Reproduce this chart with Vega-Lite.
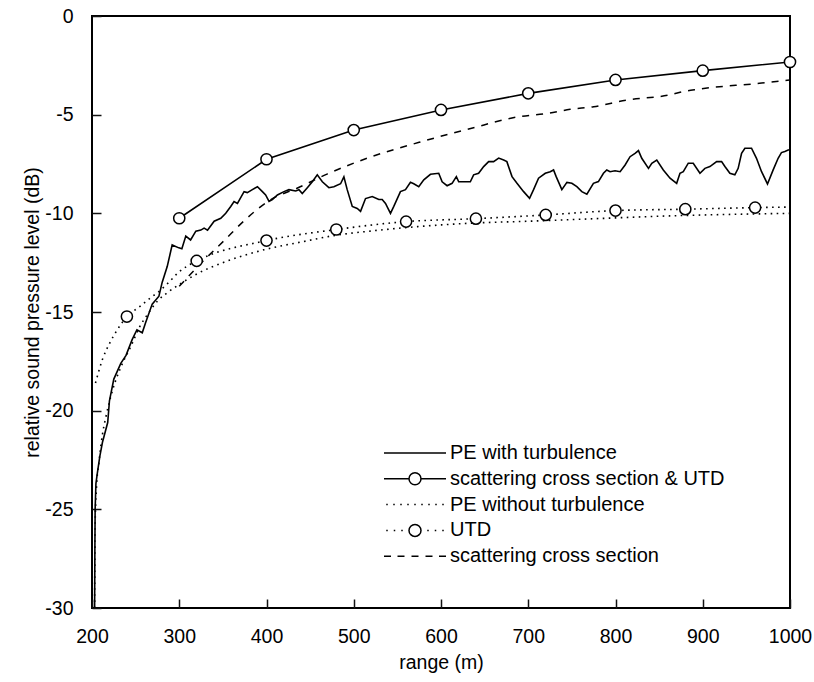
{
  "$schema": "https://vega.github.io/schema/vega-lite/v6.json",
  "width": 698,
  "height": 592,
  "autosize": {"type": "none"},
  "padding": {"left": 92, "top": 16, "right": 24, "bottom": 74},
  "background": "white",
  "config": {
    "locale": {"number": {"decimal": ".", "thousands": "", "grouping": [3], "currency": ["$", ""], "minus": "-"}},
    "view": {"stroke": "black", "strokeWidth": 2},
    "axis": {"domain": false, "grid": false, "labelFlush": false, "tickColor": "#111111", "tickWidth": 1.5, "labelFontSize": 19.5, "labelFont": "Liberation Sans", "labelColor": "black", "titleFont": "Liberation Sans", "titleFontSize": 19.5, "titleFontWeight": "normal", "titleColor": "black"},
    "legend": {
      "orient": "none", "legendX": 313, "legendY": 427,
      "title": null,
      "symbolSize": 100, "symbolStrokeWidth": 1.5, "symbolStrokeColor": "black", "symbolFillColor": "white", "symbolOpacity": 1,
      "labelFont": "Liberation Sans", "labelFontSize": 20, "labelColor": "black", "labelOffset": 25, "labelLimit": 500, "rowPadding": 5.8
    }
  },
  "data": {"values": [
    {"s":"PE with turbulence","x":203,"y":-30},{"s":"PE with turbulence","x":203.3,"y":-27},{"s":"PE with turbulence","x":203.6,"y":-25},{"s":"PE with turbulence","x":204.5,"y":-23.7},{"s":"PE with turbulence","x":206,"y":-23.2},{"s":"PE with turbulence","x":209,"y":-22.3},{"s":"PE with turbulence","x":212,"y":-21.6},{"s":"PE with turbulence","x":218,"y":-20.6},{"s":"PE with turbulence","x":220,"y":-19.5},{"s":"PE with turbulence","x":225,"y":-18.4},{"s":"PE with turbulence","x":233,"y":-17.6},{"s":"PE with turbulence","x":239,"y":-17.2},{"s":"PE with turbulence","x":246,"y":-16.4},{"s":"PE with turbulence","x":251.5,"y":-15.9},{"s":"PE with turbulence","x":257.6,"y":-16.05},{"s":"PE with turbulence","x":261.4,"y":-15.55},{"s":"PE with turbulence","x":269,"y":-14.6},{"s":"PE with turbulence","x":276.7,"y":-14.2},{"s":"PE with turbulence","x":280.4,"y":-13.5},{"s":"PE with turbulence","x":286.2,"y":-12.7},{"s":"PE with turbulence","x":291.9,"y":-11.6},{"s":"PE with turbulence","x":299.5,"y":-11.75},{"s":"PE with turbulence","x":303,"y":-11.8},{"s":"PE with turbulence","x":307.5,"y":-11.15},{"s":"PE with turbulence","x":313,"y":-11.35},{"s":"PE with turbulence","x":319,"y":-10.9},{"s":"PE with turbulence","x":324.7,"y":-10.85},{"s":"PE with turbulence","x":328.5,"y":-10.75},{"s":"PE with turbulence","x":332.4,"y":-10.85},{"s":"PE with turbulence","x":340,"y":-10.4},{"s":"PE with turbulence","x":347.6,"y":-10.25},{"s":"PE with turbulence","x":353.3,"y":-10.0},{"s":"PE with turbulence","x":359,"y":-9.65},{"s":"PE with turbulence","x":362.8,"y":-9.4},{"s":"PE with turbulence","x":366.7,"y":-9.5},{"s":"PE with turbulence","x":374.3,"y":-8.9},{"s":"PE with turbulence","x":378,"y":-8.95},{"s":"PE with turbulence","x":383.8,"y":-8.8},{"s":"PE with turbulence","x":389.6,"y":-8.65},{"s":"PE with turbulence","x":395.3,"y":-8.9},{"s":"PE with turbulence","x":399,"y":-9.07},{"s":"PE with turbulence","x":402.9,"y":-9.4},{"s":"PE with turbulence","x":406.7,"y":-9.3},{"s":"PE with turbulence","x":412.5,"y":-9.07},{"s":"PE with turbulence","x":420,"y":-8.9},{"s":"PE with turbulence","x":425.7,"y":-8.8},{"s":"PE with turbulence","x":433.4,"y":-8.87},{"s":"PE with turbulence","x":437.2,"y":-8.8},{"s":"PE with turbulence","x":441,"y":-9.0},{"s":"PE with turbulence","x":446.8,"y":-8.7},{"s":"PE with turbulence","x":452.5,"y":-8.4},{"s":"PE with turbulence","x":458.2,"y":-8.05},{"s":"PE with turbulence","x":464,"y":-8.4},{"s":"PE with turbulence","x":471.5,"y":-8.7},{"s":"PE with turbulence","x":477.2,"y":-8.65},{"s":"PE with turbulence","x":484.9,"y":-8.5},{"s":"PE with turbulence","x":488.7,"y":-8.15},{"s":"PE with turbulence","x":492.5,"y":-8.8},{"s":"PE with turbulence","x":498.3,"y":-9.65},{"s":"PE with turbulence","x":504,"y":-9.75},{"s":"PE with turbulence","x":507.8,"y":-9.9},{"s":"PE with turbulence","x":513.5,"y":-9.25},{"s":"PE with turbulence","x":521.2,"y":-9.15},{"s":"PE with turbulence","x":528.7,"y":-9.3},{"s":"PE with turbulence","x":532.6,"y":-9.3},{"s":"PE with turbulence","x":536.4,"y":-9.5},{"s":"PE with turbulence","x":542.1,"y":-10.0},{"s":"PE with turbulence","x":545.9,"y":-9.65},{"s":"PE with turbulence","x":553.5,"y":-8.9},{"s":"PE with turbulence","x":559.3,"y":-8.8},{"s":"PE with turbulence","x":565,"y":-8.43},{"s":"PE with turbulence","x":568.8,"y":-8.5},{"s":"PE with turbulence","x":574.5,"y":-8.65},{"s":"PE with turbulence","x":580.3,"y":-8.3},{"s":"PE with turbulence","x":587.9,"y":-8.02},{"s":"PE with turbulence","x":597.4,"y":-7.97},{"s":"PE with turbulence","x":601.3,"y":-8.4},{"s":"PE with turbulence","x":607,"y":-8.6},{"s":"PE with turbulence","x":612.7,"y":-8.48},{"s":"PE with turbulence","x":617.6,"y":-8.14},{"s":"PE with turbulence","x":620.3,"y":-8.4},{"s":"PE with turbulence","x":627.9,"y":-8.4},{"s":"PE with turbulence","x":633.6,"y":-8.4},{"s":"PE with turbulence","x":637.4,"y":-8.05},{"s":"PE with turbulence","x":643.1,"y":-7.97},{"s":"PE with turbulence","x":648.9,"y":-7.63},{"s":"PE with turbulence","x":654.6,"y":-7.38},{"s":"PE with turbulence","x":660.3,"y":-7.38},{"s":"PE with turbulence","x":666.1,"y":-7.2},{"s":"PE with turbulence","x":671.8,"y":-7.3},{"s":"PE with turbulence","x":675.5,"y":-7.38},{"s":"PE with turbulence","x":681.4,"y":-8.14},{"s":"PE with turbulence","x":687.1,"y":-8.48},{"s":"PE with turbulence","x":694.7,"y":-8.9},{"s":"PE with turbulence","x":701.5,"y":-9.24},{"s":"PE with turbulence","x":706.1,"y":-8.8},{"s":"PE with turbulence","x":711.8,"y":-8.22},{"s":"PE with turbulence","x":719.5,"y":-7.97},{"s":"PE with turbulence","x":725.2,"y":-7.89},{"s":"PE with turbulence","x":729,"y":-7.8},{"s":"PE with turbulence","x":732,"y":-8.14},{"s":"PE with turbulence","x":738.5,"y":-8.8},{"s":"PE with turbulence","x":744.3,"y":-8.43},{"s":"PE with turbulence","x":750,"y":-8.48},{"s":"PE with turbulence","x":755.7,"y":-8.65},{"s":"PE with turbulence","x":761.4,"y":-8.9},{"s":"PE with turbulence","x":767.2,"y":-9.03},{"s":"PE with turbulence","x":774.7,"y":-8.48},{"s":"PE with turbulence","x":780.4,"y":-8.39},{"s":"PE with turbulence","x":786.2,"y":-7.97},{"s":"PE with turbulence","x":790,"y":-7.8},{"s":"PE with turbulence","x":793.8,"y":-7.89},{"s":"PE with turbulence","x":799.5,"y":-7.84},{"s":"PE with turbulence","x":805.3,"y":-7.89},{"s":"PE with turbulence","x":811,"y":-7.55},{"s":"PE with turbulence","x":816.7,"y":-7.13},{"s":"PE with turbulence","x":822.4,"y":-6.96},{"s":"PE with turbulence","x":826.3,"y":-6.82},{"s":"PE with turbulence","x":830.1,"y":-7.21},{"s":"PE with turbulence","x":837.8,"y":-7.72},{"s":"PE with turbulence","x":841.6,"y":-7.46},{"s":"PE with turbulence","x":847.3,"y":-7.3},{"s":"PE with turbulence","x":854.8,"y":-7.8},{"s":"PE with turbulence","x":862.5,"y":-8.22},{"s":"PE with turbulence","x":870.1,"y":-8.48},{"s":"PE with turbulence","x":873.9,"y":-7.97},{"s":"PE with turbulence","x":877.7,"y":-7.89},{"s":"PE with turbulence","x":883.4,"y":-7.46},{"s":"PE with turbulence","x":889.1,"y":-7.46},{"s":"PE with turbulence","x":896.8,"y":-7.97},{"s":"PE with turbulence","x":902.5,"y":-7.72},{"s":"PE with turbulence","x":908.2,"y":-7.63},{"s":"PE with turbulence","x":915.9,"y":-7.38},{"s":"PE with turbulence","x":921.6,"y":-7.38},{"s":"PE with turbulence","x":925.4,"y":-7.63},{"s":"PE with turbulence","x":931.1,"y":-7.97},{"s":"PE with turbulence","x":936.8,"y":-8.05},{"s":"PE with turbulence","x":940.6,"y":-7.72},{"s":"PE with turbulence","x":944.5,"y":-6.96},{"s":"PE with turbulence","x":948.3,"y":-6.7},{"s":"PE with turbulence","x":955.9,"y":-6.7},{"s":"PE with turbulence","x":961.6,"y":-7.21},{"s":"PE with turbulence","x":967.4,"y":-7.89},{"s":"PE with turbulence","x":974.2,"y":-8.51},{"s":"PE with turbulence","x":980.7,"y":-7.8},{"s":"PE with turbulence","x":986.4,"y":-7.21},{"s":"PE with turbulence","x":990.2,"y":-6.92},{"s":"PE with turbulence","x":994.1,"y":-6.87},{"s":"PE with turbulence","x":997.9,"y":-6.79},{"s":"PE with turbulence","x":1000,"y":-6.78},

    {"s":"scattering cross section & UTD","x":300,"y":-10.25},{"s":"scattering cross section & UTD","x":400,"y":-7.26},{"s":"scattering cross section & UTD","x":500,"y":-5.78},{"s":"scattering cross section & UTD","x":600,"y":-4.76},{"s":"scattering cross section & UTD","x":700,"y":-3.92},{"s":"scattering cross section & UTD","x":800,"y":-3.24},{"s":"scattering cross section & UTD","x":900,"y":-2.77},{"s":"scattering cross section & UTD","x":1000,"y":-2.33},

    {"s":"PE without turbulence","x":203,"y":-30},{"s":"PE without turbulence","x":203.5,"y":-26},{"s":"PE without turbulence","x":205,"y":-24},{"s":"PE without turbulence","x":208,"y":-22.6},{"s":"PE without turbulence","x":212,"y":-21.2},{"s":"PE without turbulence","x":216,"y":-20.3},{"s":"PE without turbulence","x":224,"y":-18.9},{"s":"PE without turbulence","x":233,"y":-17.8},{"s":"PE without turbulence","x":245,"y":-16.7},{"s":"PE without turbulence","x":254,"y":-15.8},{"s":"PE without turbulence","x":264,"y":-15.1},{"s":"PE without turbulence","x":275,"y":-14.45},{"s":"PE without turbulence","x":287,"y":-14.0},{"s":"PE without turbulence","x":302,"y":-13.55},{"s":"PE without turbulence","x":321,"y":-13.05},{"s":"PE without turbulence","x":350,"y":-12.5},{"s":"PE without turbulence","x":397,"y":-11.85},{"s":"PE without turbulence","x":440,"y":-11.45},{"s":"PE without turbulence","x":481,"y":-11.1},{"s":"PE without turbulence","x":519,"y":-10.9},{"s":"PE without turbulence","x":580,"y":-10.65},{"s":"PE without turbulence","x":634,"y":-10.5},{"s":"PE without turbulence","x":700,"y":-10.4},{"s":"PE without turbulence","x":760,"y":-10.3},{"s":"PE without turbulence","x":862,"y":-10.13},{"s":"PE without turbulence","x":1000,"y":-10.0},

    {"s":"UTD","x":204,"y":-18.6},{"s":"UTD","x":212,"y":-17.4},{"s":"UTD","x":220,"y":-16.6},{"s":"UTD","x":229,"y":-15.9},{"s":"UTD","x":240,"y":-15.23},{"s":"UTD","x":254,"y":-14.75},{"s":"UTD","x":265,"y":-14.35},{"s":"UTD","x":277,"y":-13.95},{"s":"UTD","x":288,"y":-13.5},{"s":"UTD","x":299,"y":-13.0},{"s":"UTD","x":310,"y":-12.65},{"s":"UTD","x":320,"y":-12.41},{"s":"UTD","x":400,"y":-11.38},{"s":"UTD","x":480,"y":-10.82},{"s":"UTD","x":560,"y":-10.42},{"s":"UTD","x":640,"y":-10.27},{"s":"UTD","x":720,"y":-10.08},{"s":"UTD","x":800,"y":-9.86},{"s":"UTD","x":880,"y":-9.79},{"s":"UTD","x":960,"y":-9.71},{"s":"UTD","x":1000,"y":-9.68},

    {"s":"scattering cross section","x":300,"y":-13.7},{"s":"scattering cross section","x":320,"y":-12.75},{"s":"scattering cross section","x":351,"y":-11.4},{"s":"scattering cross section","x":375,"y":-10.35},{"s":"scattering cross section","x":405,"y":-9.3},{"s":"scattering cross section","x":435,"y":-8.73},{"s":"scattering cross section","x":470,"y":-8.0},{"s":"scattering cross section","x":519,"y":-7.15},{"s":"scattering cross section","x":575,"y":-6.4},{"s":"scattering cross section","x":634,"y":-5.7},{"s":"scattering cross section","x":690,"y":-5.1},{"s":"scattering cross section","x":720,"y":-4.95},{"s":"scattering cross section","x":748,"y":-4.73},{"s":"scattering cross section","x":775,"y":-4.6},{"s":"scattering cross section","x":813,"y":-4.26},{"s":"scattering cross section","x":862,"y":-4.0},{"s":"scattering cross section","x":878,"y":-3.83},{"s":"scattering cross section","x":893,"y":-3.72},{"s":"scattering cross section","x":965,"y":-3.41},{"s":"scattering cross section","x":1000,"y":-3.24}
  ]},
  "encoding": {
    "x": {"field": "x", "type": "quantitative", "scale": {"domain": [200, 1000], "nice": false, "zero": false}},
    "y": {"field": "y", "type": "quantitative", "scale": {"domain": [-30, 0], "nice": false, "zero": false}}
  },
  "layer": [
    {
      "transform": [{"filter": "datum.s == 'PE without turbulence'"}],
      "mark": {"type": "line", "color": "black", "strokeWidth": 1.6, "strokeDash": [1.6, 4.4], "interpolate": "monotone"},
      "encoding": {
        "x": {"field": "x", "type": "quantitative", "title": "range (m)",
          "axis": {"orient": "bottom", "tickCount": 8, "format": "d", "tickSize": 9, "offset": -9, "labelPadding": 19, "titlePadding": 8}},
        "y": {"field": "y", "type": "quantitative", "title": "relative sound pressure level (dB)",
          "axis": {"orient": "left", "tickCount": 6, "format": "d", "tickSize": 9, "offset": -9, "labelPadding": 19, "titlePadding": 2}}
      }
    },
    {
      "transform": [{"filter": "datum.s == 'UTD'"}],
      "mark": {"type": "line", "color": "black", "strokeWidth": 1.6, "strokeDash": [1.6, 4.4], "interpolate": "monotone"},
      "encoding": {"x": {"field": "x", "type": "quantitative", "axis": null}, "y": {"field": "y", "type": "quantitative", "axis": null}}
    },
    {
      "transform": [{"filter": "datum.s == 'scattering cross section'"}],
      "mark": {"type": "line", "color": "black", "strokeWidth": 1.5, "strokeDash": [7, 7], "interpolate": "monotone"},
      "encoding": {"x": {"field": "x", "type": "quantitative", "axis": null}, "y": {"field": "y", "type": "quantitative", "axis": null}}
    },
    {
      "transform": [{"filter": "datum.s == 'PE with turbulence'"}],
      "mark": {"type": "line", "color": "black", "strokeWidth": 1.6},
      "encoding": {"x": {"field": "x", "type": "quantitative", "axis": null}, "y": {"field": "y", "type": "quantitative", "axis": null}}
    },
    {
      "transform": [{"filter": "datum.s == 'scattering cross section & UTD'"}],
      "mark": {"type": "line", "color": "black", "strokeWidth": 1.6},
      "encoding": {"x": {"field": "x", "type": "quantitative", "axis": null}, "y": {"field": "y", "type": "quantitative", "axis": null}}
    },
    {
      "transform": [{"filter": "datum.s == 'scattering cross section & UTD' || (datum.s == 'UTD' && datum.x % 80 == 0)"}],
      "mark": {"type": "point", "shape": "circle", "filled": false, "fill": "white", "fillOpacity": 1, "stroke": "black", "strokeWidth": 1.5, "size": 125, "opacity": 1},
      "encoding": {"x": {"field": "x", "type": "quantitative", "axis": null}, "y": {"field": "y", "type": "quantitative", "axis": null}}
    },
    {
      "data": {"values": [{"t": 300}, {"t": 400}, {"t": 500}, {"t": 600}, {"t": 700}, {"t": 800}, {"t": 900}]},
      "layer": [
        {"mark": {"type": "rule", "color": "black", "strokeWidth": 1.5},
         "encoding": {"x": {"field": "t", "type": "quantitative", "axis": null}, "y": {"datum": -30, "type": "quantitative", "axis": null}, "y2": {"datum": -29.54}}},
        {"mark": {"type": "rule", "color": "black", "strokeWidth": 1.5},
         "encoding": {"x": {"field": "t", "type": "quantitative", "axis": null}, "y": {"datum": 0, "type": "quantitative", "axis": null}, "y2": {"datum": -0.46}}}
      ]
    },
    {
      "data": {"values": [{"t": -25}, {"t": -20}, {"t": -15}, {"t": -10}, {"t": -5}]},
      "layer": [
        {"mark": {"type": "rule", "color": "black", "strokeWidth": 1.5},
         "encoding": {"y": {"field": "t", "type": "quantitative", "axis": null}, "x": {"datum": 200, "type": "quantitative", "axis": null}, "x2": {"datum": 210.3}}},
        {"mark": {"type": "rule", "color": "black", "strokeWidth": 1.5},
         "encoding": {"y": {"field": "t", "type": "quantitative", "axis": null}, "x": {"datum": 1000, "type": "quantitative", "axis": null}, "x2": {"datum": 989.7}}}
      ]
    },
    {
      "transform": [{"filter": "false"}],
      "mark": {"type": "point", "filled": false},
      "encoding": {
        "x": {"field": "x", "type": "quantitative", "axis": null},
        "y": {"field": "y", "type": "quantitative", "axis": null},
        "shape": {"field": "s", "type": "nominal",
          "scale": {
            "domain": ["PE with turbulence", "scattering cross section & UTD", "PE without turbulence", "UTD", "scattering cross section"],
            "range": [
              "M-6.2,0H6.2",
              "M-6.2,0H-1.2M1.2,0H6.2M1.2,0A1.2,1.2,0,1,1,-1.2,0A1.2,1.2,0,1,1,1.2,0",
              "M-5.75,0h0.3M-4.35,0h0.3M-2.95,0h0.3M-1.55,0h0.3M-0.15,0h0.3M1.25,0h0.3M2.65,0h0.3M4.05,0h0.3M5.45,0h0.3",
              "M-5.75,0h0.3M-4.25,0h0.3M-2.75,0h0.3M1.2,0A1.2,1.2,0,1,1,-1.2,0A1.2,1.2,0,1,1,1.2,0M2.45,0h0.3M3.95,0h0.3M5.45,0h0.3",
              "M-6.2,0H-4.8M-3.5,0H-2.1M-0.7,0H0.7M2.1,0H3.5M4.8,0H6.2"
            ]
          },
          "legend": {"title": null}
        }
      }
    }
  ],
  "resolve": {"axis": {"x": "independent", "y": "independent"}}
}
